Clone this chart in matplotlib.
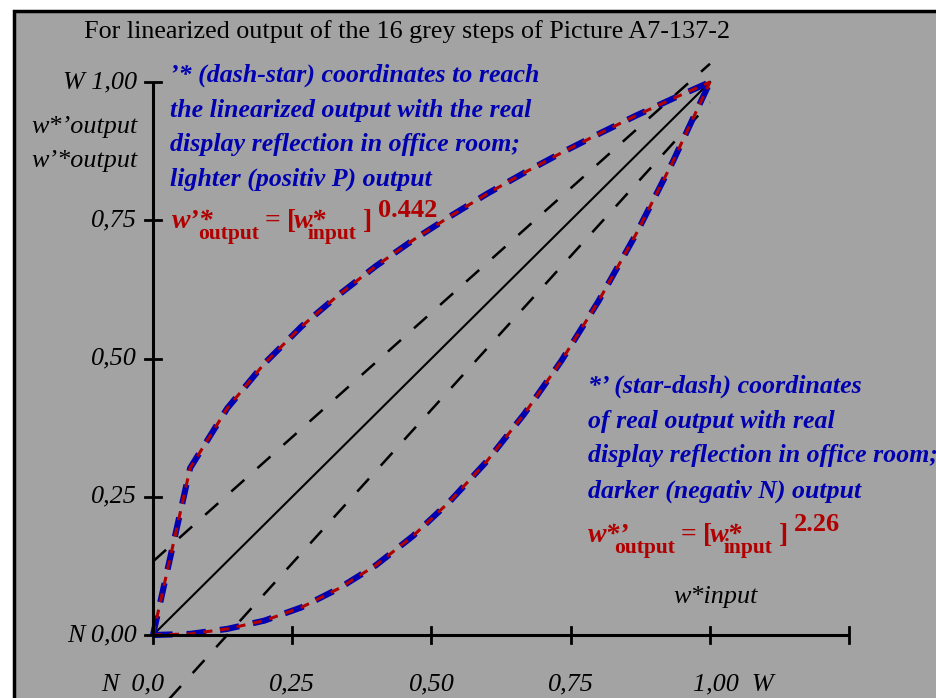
import matplotlib
matplotlib.use('Agg')
import matplotlib.pyplot as plt
from matplotlib.patches import Rectangle

# 16 grey steps, input values
w_input = [0.0, 0.0667, 0.1333, 0.2, 0.2667, 0.3333, 0.4, 0.4667,
           0.5333, 0.6, 0.6667, 0.7333, 0.8, 0.8667, 0.9333, 1.0]
# lighter (positive P) output, exponent 0.442
w_light = [0.0, 0.302, 0.410, 0.491, 0.558, 0.615, 0.667, 0.714,
           0.757, 0.798, 0.836, 0.872, 0.906, 0.939, 0.970, 1.0]
# darker (negative N) output, exponent 2.26
w_dark = [0.0, 0.002, 0.011, 0.026, 0.050, 0.084, 0.126, 0.179,
          0.242, 0.315, 0.400, 0.496, 0.604, 0.724, 0.856, 1.0]

# helper lines
diag_x = [0.0, 1.0]
diag_y = [0.0, 1.0]
upper_x = [0.0, 1.0]
upper_y = [0.133, 1.033]
lower_x = [0.0, 1.0]
lower_y = [-0.148, 0.963]

x_ticks = [0.0, 0.25, 0.5, 0.75, 1.0, 1.25]
x_labels = ['0,25', '0,50', '0,75']
y_ticks = [0.0, 0.25, 0.5, 0.75, 1.0]
y_labels = ['N 0,00', '0,25', '0,50', '0,75', 'W 1,00']

title = 'For linearized output of the 16 grey steps of Picture A7-137-2'
text_up = ['’* (dash-star) coordinates to reach',
           'the linearized output with the real',
           'display reflection in office room;',
           'lighter (positiv P) output']
text_dn = ['*’ (star-dash) coordinates',
           'of real output with real',
           'display reflection in office room;',
           'darker (negativ N) output']

BLUE = '#0000b0'
RED = '#b00000'
GREY = '#a3a3a3'
SERIF = ['Liberation Serif', 'DejaVu Serif']

W, H = 937, 698
fig = plt.figure(figsize=(W / 100, H / 100), dpi=100, facecolor='white')
ax = fig.add_axes([0, 0, 1, 1])
# data coords: x=0 at px 153, x=1 at px 710; y=0 at px 635, y=1 at px 82
sx, sy = 557.0, 553.0
ax.set_xlim(-153 / sx, (W - 153) / sx)
ax.set_ylim((635 - H) / sy, 635 / sy)
ax.axis('off')

def dx(p):
    return (p - 153) / sx

def dy(p):
    return (635 - p) / sy

# grey panel with black frame
ax.add_patch(Rectangle((dx(14), dy(H + 20)), dx(W + 20) - dx(14), dy(11) - dy(H + 20),
                       facecolor=GREY, edgecolor='black', linewidth=2.5, zorder=0))

# axes lines and ticks
ax.plot([0, 1.25], [0, 0], color='black', lw=2.2, solid_capstyle='butt', zorder=5)
ax.plot([0, 0], [0, 1.0], color='black', lw=2.2, solid_capstyle='butt', zorder=5)
tx = 8 / sy
for t in x_ticks:
    ax.plot([t, t], [-tx, tx], color='black', lw=2.0, zorder=5)
ty = 8 / sx
for t in y_ticks:
    ax.plot([-ty, ty], [t, t], color='black', lw=2.0, zorder=5)

# reference lines
ax.plot(diag_x, diag_y, color='black', lw=1.5, zorder=3)
ax.plot(upper_x, upper_y, color='black', lw=1.8, dashes=(7, 7), zorder=3)
ax.plot(lower_x, lower_y, color='black', lw=1.8, dashes=(7, 7), zorder=3)

# output curves: blue dashes under red dashes
for yv in (w_light, w_dark):
    ax.plot(w_input, yv, color=BLUE, lw=4.4, dashes=(3.2, 2.3), zorder=4)
    ax.plot(w_input, yv, color=RED, lw=2.2, dashes=(3.0, 2.5), zorder=4.5)

fs = 18.8
ax.text(dx(84), dy(38), title, fontsize=fs, family=SERIF, color='black',
        ha='left', va='baseline')

# y labels
for t, lab in zip(y_ticks, y_labels):
    ax.text(dx(137), t, lab, fontsize=fs, family=SERIF, style='italic',
            ha='right', va='center')
ax.text(dx(138), dy(133), 'w*’output', fontsize=fs, family=SERIF, style='italic',
        ha='right', va='baseline')
ax.text(dx(138), dy(167), 'w’*output', fontsize=fs, family=SERIF, style='italic',
        ha='right', va='baseline')

# x labels
for t, lab in zip(x_ticks[1:4], x_labels):
    ax.text(t, dy(690), lab, fontsize=fs, family=SERIF, style='italic',
            ha='center', va='baseline')
ax.text(dx(164), dy(690), 'N  0,0', fontsize=fs, family=SERIF, style='italic',
        ha='right', va='baseline')
ax.text(dx(693), dy(690), '1,00  W', fontsize=fs, family=SERIF, style='italic',
        ha='left', va='baseline')
ax.text(dx(716), dy(603), 'w*input', fontsize=fs, family=SERIF, style='italic',
        ha='center', va='baseline')

# blue annotation blocks
bfs = 18.6
for i, line in enumerate(text_up):
    ax.text(dx(170), dy(82 + 34.6 * i), line, fontsize=bfs, family=SERIF,
            style='italic', weight='bold', color=BLUE, ha='left', va='baseline')
for i, line in enumerate(text_dn):
    ax.text(dx(588), dy(393 + 34.7 * i), line, fontsize=bfs, family=SERIF,
            style='italic', weight='bold', color=BLUE, ha='left', va='baseline')

def formula(x0, base, first, expo):
    # pieces: text, style, size, x offset (px), baseline shift (px)
    pieces = [(first, 'italic', 20, 0, 0),
              ('output', 'normal', 15.5, 26, 11),
              ('=', 'normal', 20, 93, 0),
              ('[', 'normal', 20, 115, 0),
              ('w*', 'italic', 20, 122, 0),
              ('input', 'normal', 15.5, 136, 11),
              (']', 'normal', 20, 191, 0),
              (expo, 'normal', 19, 206, -11)]
    for s, st, size, off, shift in pieces:
        ax.text(dx(x0 + off), dy(base + shift), s, fontsize=size, family=SERIF,
                style=st, weight='bold', color=RED, ha='left', va='baseline')

formula(172, 228, 'w’*', '0.442')
formula(588, 542, 'w*’', '2.26')

fig.savefig('out.png', dpi=100, facecolor='white')
